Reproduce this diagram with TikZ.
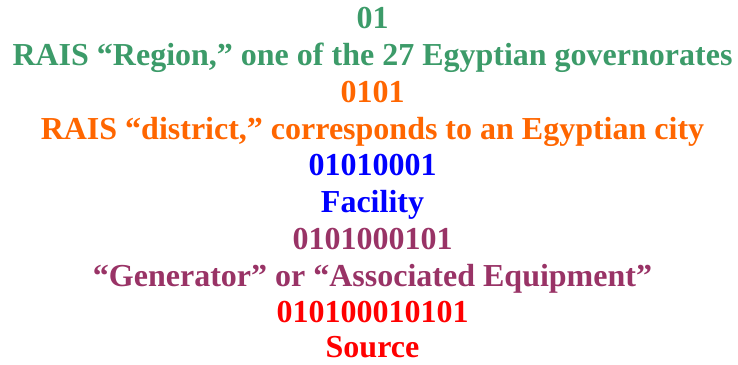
\documentclass[tikz,border=0pt]{standalone}
\usepackage{fontspec}
\setmainfont{Liberation Serif}
\definecolor{cgreen}{RGB}{60,155,105}
\definecolor{corange}{RGB}{255,102,0}
\definecolor{cblue}{RGB}{0,0,255}
\definecolor{cplum}{RGB}{153,51,102}
\definecolor{cred}{RGB}{255,0,0}
\tikzset{line/.style={anchor=base,inner sep=0pt,font=\fontsize{32pt}{36pt}\selectfont\bfseries}}
\begin{document}
\begin{tikzpicture}[x=1pt,y=1pt]
\useasboundingbox (0,0) rectangle (738,-364);
\def\cx{372.5}
\node[line,text=cgreen] (l1) at (\cx,-28.5) {01};
\node[line,text=cgreen] (l2) at (\cx,-65.3) {RAIS “Region,” one of the 27 Egyptian governorates};
\node[line,text=corange] (l3) at (\cx,-102.2) {0101};
\node[line,text=corange] (l4) at (\cx,-139) {RAIS “district,” corresponds to an Egyptian city};
\node[line,text=cblue] (l5) at (\cx,-175.8) {01010001};
\node[line,text=cblue] (l6) at (\cx,-212.7) {Facility};
\node[line,text=cplum] (l7) at (\cx,-249.5) {0101000101};
\node[line,text=cplum] (l8) at (\cx,-286.3) {“Generator” or “Associated Equipment”};
\node[line,text=cred] (l9) at (\cx,-322.8) {010100010101};
\node[line,text=cred] (l10) at (\cx,-357.8) {Source};
\end{tikzpicture}
\end{document}
